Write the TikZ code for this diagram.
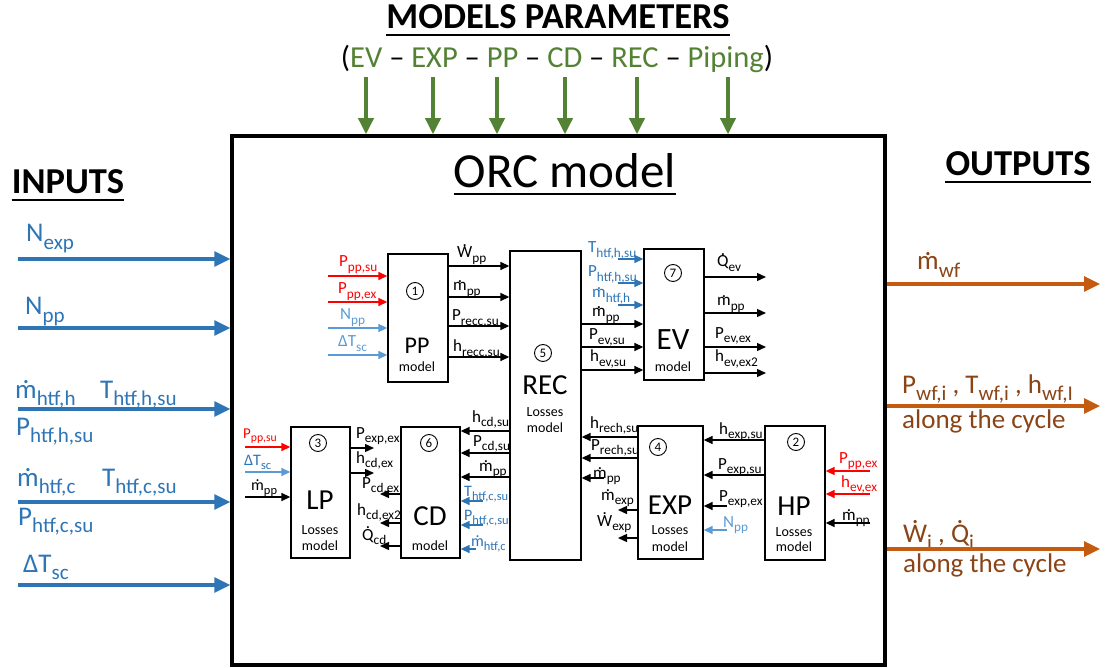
\documentclass[tikz,border=0pt]{standalone}
\usepackage{fontspec}
\usepackage{graphicx}
\setmainfont{Carlito}
\usetikzlibrary{arrows.meta}

\definecolor{inblue}{HTML}{2E75B6}
\definecolor{ltblue}{HTML}{5B9BD5}
\definecolor{parred}{HTML}{FF0000}
\definecolor{pargreen}{HTML}{548235}
\definecolor{outorange}{HTML}{C55A11}
\definecolor{outbrown}{HTML}{8A4416}

\newcommand\fsz[1]{\fontsize{#1}{#1}\selectfont}
% subscript in the style of presentation software
\newcommand\lo[1]{\raisebox{-.26em}{\scalebox{.78}{#1}}}
% letter with a dot above (time derivative)
\newcommand\od[2][.52em]{\ooalign{#2\cr\hidewidth\raisebox{#1}{.}\hidewidth\cr}}
\newcommand\mdot{\od{m}}
\newcommand\Wdot{\od[.70em]{W}}
\newcommand\Qdot{\od[.70em]{Q}}

\tikzset{
  lab/.style={inner sep=0pt, anchor=base west, font=\fsz{17}},
  biglab/.style={inner sep=0pt, anchor=base west, font=\fsz{27}},
  blk/.style={draw, line width=1.3pt, fill=white},
  num/.style={draw, circle, line width=0.9pt, inner sep=0pt, minimum size=17pt, font=\fsz{13}},
  abbr/.style={inner sep=0pt, font=\fsz{29}},
  small/.style={inner sep=0pt, font=\fsz{14}},
  tarr/.style={line width=1.4pt, -{Triangle[length=9pt,width=8pt]}},
  bigarr/.style={line width=3.3pt, -{Triangle[length=16pt,width=15pt]}},
  heading/.style={inner sep=0pt, anchor=base, font=\fsz{36.5}\bfseries},
}

\begin{document}
\begin{tikzpicture}[x=1pt,y=-1pt]
\useasboundingbox (0,0) rectangle (1106,668);

% ---------- model parameters ----------
\node[heading] (mp) at (558,29) {MODELS PARAMETERS};
\draw[line width=2.6pt] ([yshift=-6pt]mp.base west) -- ([yshift=-6pt]mp.base east);
\node[inner sep=0pt, anchor=base, font=\fsz{30.5}] (pl) at (557,68)
  {(\textcolor{pargreen}{EV} – \textcolor{pargreen}{EXP} – \textcolor{pargreen}{PP} – \textcolor{pargreen}{CD} – \textcolor{pargreen}{REC} – \textcolor{pargreen}{Piping})};

% ---------- main frame ----------
\node[draw, line width=3.5pt, minimum width=653, minimum height=529] (orc) at (558.5,400.5) {};
\node[inner sep=0pt, anchor=base, font=\fsz{49}] (orct) at (565,188) {ORC model};
\draw[line width=2.5pt] ([yshift=-6pt]orct.base west) -- ([yshift=-6pt]orct.base east);

\foreach \gx [count=\i] in {366,433,497,565,637,728}
  \draw[bigarr, pargreen, line width=3.5pt] (\gx,77) coordinate (g\i) -- (orc.north -| g\i);

% ---------- inputs ----------
\node[heading] (inp) at (68,194) {INPUTS};
\draw[line width=2.4pt] ([yshift=-6pt]inp.base west) -- ([yshift=-6pt]inp.base east);

\begin{scope}[inblue]
\node[biglab] (nexp) at (26,242) {N\lo{exp}};
\node[biglab] (npp) at (25,315) {N\lo{pp}};
\node[biglab] (mh) at (15,398) {\mdot\lo{htf,h}};
\node[biglab] (th) at (100,398) {T\lo{htf,h,su}};
\node[biglab] (ph) at (16,435) {P\lo{htf,h,su}};
\node[biglab] (mc) at (17,486) {\mdot\lo{htf,c}};
\node[biglab] (tc) at (102,486) {T\lo{htf,c,su}};
\node[biglab] (pc) at (18,525) {P\lo{htf,c,su}};
\node[biglab] (dt) at (23,572) {ΔT\lo{sc}};
\foreach \iy [count=\i] in {259,328,409,502,585}
  \draw[bigarr] (18,\iy) coordinate (in\i) -- (orc.west |- in\i);
\end{scope}

% ---------- outputs ----------
\node[heading] (outp) at (1018,176) {OUTPUTS};
\draw[line width=2.4pt] ([yshift=-6pt]outp.base west) -- ([yshift=-6pt]outp.base east);

\begin{scope}[outbrown]
\node[biglab] (mwf) at (917,270) {\mdot\lo{wf}};
\node[biglab] (pth) at (902,393) {P\lo{wf,i} , T\lo{wf,i} , h\lo{wf,I}};
\node[biglab] (cyc1) at (902,428) {along the cycle};
\node[biglab] (wq) at (903,542) {\Wdot\lo{i} , \Qdot\lo{i}};
\node[biglab] (cyc2) at (903,572) {along the cycle};
\end{scope}
\foreach \oy [count=\i] in {284,406,549}
  \draw[bigarr, outorange] (1100,\oy) coordinate (out\i) (orc.east |- out\i) -- (out\i);

% ---------- component blocks ----------
\node[blk, minimum width=60, minimum height=128] (pp) at (418,318) {};
\node[blk, minimum width=71, minimum height=309] (rec) at (545.5,405.5) {};
\node[blk, minimum width=60, minimum height=131] (ev) at (674,314.5) {};
\node[blk, minimum width=59, minimum height=131] (lp) at (320.5,492.5) {};
\node[blk, minimum width=59, minimum height=131] (cd) at (430.5,492.5) {};
\node[blk, minimum width=65, minimum height=133] (exp) at (670.5,492.5) {};
\node[blk, minimum width=60, minimum height=134] (hp) at (795,493) {};

\node[num] (n1) at (415,291) {1};
\node[abbr, font=\fsz{24}] (ppt) at (417,346) {PP};
\node[small] (ppm) at (417,367) {model};

\node[num] (n5) at (543,353) {5};
\node[abbr] (rect) at (545,385) {REC};
\node[small] (recl) at (545,412) {Losses};
\node[small] (recm) at (545,428) {model};

\node[num] (n7) at (673,273) {7};
\node[abbr, font=\fsz{31}] (evt) at (673,340) {EV};
\node[small] (evm) at (673,367) {model};

\node[num] (n3) at (318,443) {3};
\node[abbr] (lpt) at (320,500) {LP};
\node[small] (lpl) at (320,530) {Losses};
\node[small] (lpm) at (320,546) {model};

\node[num] (n6) at (429,443) {6};
\node[abbr] (cdt) at (430,516) {CD};
\node[small] (cdm) at (430,546) {model};

\node[num] (n4) at (658,447) {4};
\node[abbr] (expt) at (670,505) {EXP};
\node[small] (expl) at (670,530) {Losses};
\node[small] (expm) at (670,547) {model};

\node[num] (n2) at (796,442) {2};
\node[abbr] (hpt) at (794,506) {HP};
\node[small] (hpl) at (794,532) {Losses};
\node[small] (hpm) at (794,547) {model};

% ---------- PP ----------
\node[lab, parred] (l1) at (339,267) {P\lo{pp,su}};
\node[lab, parred] (l2) at (338,294) {P\lo{pp,ex}};
\node[lab, ltblue] (l3) at (340,320) {N\lo{pp}};
\node[lab, ltblue] (l4) at (338,347) {ΔT\lo{sc}};
\draw[tarr, parred] (328,276) coordinate (a1) -- (pp.west |- a1);
\draw[tarr, parred] (328,302) coordinate (a2) -- (pp.west |- a2);
\draw[tarr, ltblue] (328,328) coordinate (a3) -- (pp.west |- a3);
\draw[tarr, ltblue] (328,355) coordinate (a4) -- (pp.west |- a4);

\node[lab] (l5) at (457,258) {\Wdot\lo{pp}};
\node[lab] (l6) at (453,291) {\mdot\lo{pp}};
\node[lab] (l7) at (452,321) {P\lo{recc,su}};
\node[lab] (l8) at (453,352) {h\lo{recc,su}};
\draw[tarr] (pp.east |- 0,266) -- (rec.west |- 0,266);
\draw[tarr] (pp.east |- 0,297) -- (rec.west |- 0,297);
\draw[tarr] (pp.east |- 0,326) -- (rec.west |- 0,326);
\draw[tarr] (pp.east |- 0,357) -- (rec.west |- 0,357);

% ---------- EV ----------
\node[lab, inblue] (l9) at (588,253) {T\lo{htf,h,su}};
\node[lab, inblue] (l10) at (588,277) {P\lo{htf,h,su}};
\node[lab, inblue] (l11) at (592,298) {\mdot\lo{htf,h}};
\draw[tarr, inblue] (618,259) coordinate (a5) -- (ev.west |- a5);
\draw[tarr, inblue] (618,283) coordinate (a6) -- (ev.west |- a6);
\draw[tarr, inblue] (618,305) coordinate (a7) -- (ev.west |- a7);

\node[lab] (l12) at (592,317) {\mdot\lo{pp}};
\node[lab] (l13) at (589,340) {P\lo{ev,su}};
\node[lab] (l14) at (590,362) {h\lo{ev,su}};
\draw[tarr] (rec.east |- 0,324) -- (ev.west |- 0,324);
\draw[tarr] (rec.east |- 0,347) -- (ev.west |- 0,347);
\draw[tarr] (rec.east |- 0,370) -- (ev.west |- 0,370);

\node[lab] (l15) at (717,267) {\Qdot\lo{ev}};
\node[lab] (l16) at (717,306) {\mdot\lo{pp}};
\node[lab] (l17) at (715,338) {P\lo{ev,ex}};
\node[lab] (l18) at (715,362) {h\lo{ev,ex2}};
\draw[tarr] (ev.east |- 0,277) -- (766,277) coordinate (a8);
\draw[tarr] (ev.east |- 0,313) -- (766,313) coordinate (a9);
\draw[tarr] (ev.east |- 0,347) -- (766,347) coordinate (a10);
\draw[tarr] (ev.east |- 0,373) -- (766,373) coordinate (a11);

% ---------- REC to CD ----------
\node[lab] (l19) at (472,422) {h\lo{cd,su}};
\node[lab] (l20) at (473,446) {P\lo{cd,su}};
\node[lab] (l21) at (479,471) {\mdot\lo{pp}};
\draw[tarr] (rec.west |- 0,431) -- (cd.east |- 0,431);
\draw[tarr] (rec.west |- 0,453) -- (cd.east |- 0,453);
\draw[tarr] (rec.west |- 0,477) -- (cd.east |- 0,477);

\node[lab, inblue, font=\fsz{16}] (l22) at (464,496) {T\lo{htf,c,su}};
\node[lab, inblue, font=\fsz{16}] (l23) at (464,520) {P\lo{htf,c,su}};
\node[lab, inblue, font=\fsz{16}] (l24) at (471,546) {\mdot\lo{htf,c}};
\draw[tarr, inblue] (483,501) coordinate (a12) -- (cd.east |- a12);
\draw[tarr, inblue] (483,525) coordinate (a13) -- (cd.east |- a13);
\draw[tarr, inblue] (476,549) coordinate (a14) -- (cd.east |- a14);

% ---------- EXP to REC ----------
\node[lab] (l25) at (590,428) {h\lo{rech,su}};
\node[lab] (l26) at (591,450) {P\lo{rech,su}};
\node[lab] (l27) at (593,478) {\mdot\lo{pp}};
\draw[tarr] (exp.west |- 0,437) -- (rec.east |- 0,437);
\draw[tarr] (exp.west |- 0,458) -- (rec.east |- 0,458);
\draw[tarr] (604,478) coordinate (a15) -- (rec.east |- a15);

\node[lab] (l28) at (601,500) {\mdot\lo{exp}};
\node[lab] (l29) at (597,526) {\Wdot\lo{exp}};
\draw[tarr] (exp.west |- 0,510) -- (618,510) coordinate (a16);
\draw[tarr] (exp.west |- 0,538) -- (618,538) coordinate (a17);

% ---------- HP to EXP ----------
\node[lab] (l30) at (719,434) {h\lo{exp,su}};
\node[lab] (l31) at (718,469) {P\lo{exp,su}};
\node[lab] (l32) at (719,501) {P\lo{exp,ex}};
\node[lab, ltblue] (l33) at (723,527) {N\lo{pp}};
\draw[tarr] (hp.west |- 0,440) -- (exp.east |- 0,440);
\draw[tarr] (hp.west |- 0,475) -- (exp.east |- 0,475);
\draw[tarr] (727,506) coordinate (a18) -- (exp.east |- a18);
\draw[tarr, ltblue] (727,530) coordinate (a19) -- (exp.east |- a19);

\node[lab, parred] (l34) at (839,463) {P\lo{pp,ex}};
\node[lab, parred] (l35) at (841,487) {h\lo{ev,ex}};
\node[lab] (l36) at (842,520) {\mdot\lo{pp}};
\draw[tarr, parred] (870,471) coordinate (a20) -- (hp.east |- a20);
\draw[tarr, parred] (870,494) coordinate (a21) -- (hp.east |- a21);
\draw[tarr] (870,523) coordinate (a22) -- (hp.east |- a22);

% ---------- LP ----------
\node[lab, parred, font=\fsz{15}] (l37) at (243,438) {P\lo{pp,su}};
\node[lab, inblue, font=\fsz{16}] (l38) at (244,465) {ΔT\lo{sc}};
\node[lab, font=\fsz{16}] (l39) at (251,490) {\mdot\lo{pp}};
\draw[tarr, parred] (245,447) coordinate (a23) -- (lp.west |- a23);
\draw[tarr, ltblue] (245,472) coordinate (a24) -- (lp.west |- a24);
\draw[tarr] (245,497) coordinate (a25) -- (lp.west |- a25);

\node[lab] (l40) at (356,438) {P\lo{exp,ex}};
\node[lab] (l41) at (356,463) {h\lo{cd,ex}};
\draw[tarr] (lp.east |- 0,448) -- (374,448) coordinate (a26);
\draw[tarr] (lp.east |- 0,473) -- (374,473) coordinate (a27);

% ---------- CD outputs ----------
\node[lab] (l42) at (362,488) {P\lo{cd,ex}};
\node[lab] (l43) at (357,515) {h\lo{cd,ex2}};
\node[lab] (l44) at (362,540) {\Qdot\lo{cd}};
\draw[tarr] (cd.west |- 0,494) -- (380,494) coordinate (a28);
\draw[tarr] (cd.west |- 0,523) -- (380,523) coordinate (a29);
\draw[tarr] (cd.west |- 0,546) -- (380,546) coordinate (a30);
\end{tikzpicture}
\end{document}
